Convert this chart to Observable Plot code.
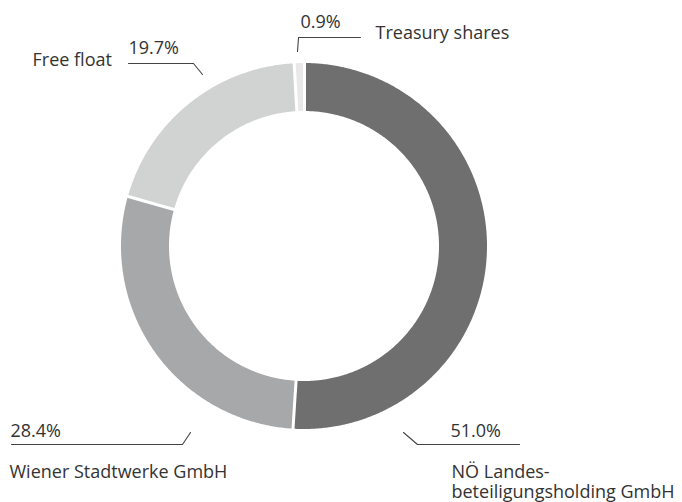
<!DOCTYPE html>
<html>
<head>
<meta charset="utf-8">
<script src="https://cdn.jsdelivr.net/npm/d3@7"></script>
<script src="https://cdn.jsdelivr.net/npm/@observablehq/plot@0.6"></script>
<style>
  html, body { margin: 0; padding: 0; background: #fff; }
  #chart { width: 682px; height: 502px; }
</style>
</head>
<body>
<div id="chart"></div>
<script>
// ---- Data ----
const categories = ["NÖ Landesbeteiligungsholding GmbH", "Wiener Stadtwerke GmbH", "Free float", "Treasury shares"];
const shares = [51.0, 28.4, 19.7, 0.9];
const categoryLabels = ["NÖ Landes-\nbeteiligungsholding GmbH", "Wiener Stadtwerke GmbH", "Free float", "Treasury shares"];
const valueLabels = ["51.0%", "28.4%", "19.7%", "0.9%"];
const sliceColors = ["#6f6f6f", "#a7a8a9", "#d1d2d2", "#e9e9e9"];

// ---- Layout (pixels) ----
const W = 682, H = 502;
const cx = 304, cy = 246, R = 183, r = 135;

const layout = [
  {vx: 450, vy: 436, nx: 451, ny: 497, leader: [[403, 432], [417, 444], [519, 444]]},
  {vx: 10,  vy: 436, nx: 9,   ny: 477, leader: [[11, 444], [182, 444], [190, 432]]},
  {vx: 128, vy: 53,  nx: 32,  ny: 65,  leader: [[128, 63], [193, 63], [202, 74]]},
  {vx: 300, vy: 27,  nx: 375, ny: 38,  leader: [[297, 51], [298, 37], [360, 37]]}
];

// ---- Geometry from data ----
const table = categories.map((c, i) => ({name: c, value: shares[i], index: i}));
const arcs = d3.pie().sort(null).value(d => d.value).startAngle(0).endAngle(2 * Math.PI)(table);

const pt = (a, rad) => [cx + rad * Math.sin(a), cy - rad * Math.cos(a)];
const ringPts = [];
for (const a of arcs) {
  const n = Math.max(4, Math.ceil((a.endAngle - a.startAngle) / (Math.PI / 360)));
  for (let k = 0; k <= n; k++) {
    const t = a.startAngle + (a.endAngle - a.startAngle) * k / n;
    const [ox, oy] = pt(t, R);
    const [ix, iy] = pt(t, r);
    ringPts.push({name: a.data.name, ox, oy, ix, iy});
  }
}
const seps = arcs.map(a => {
  const [x1, y1] = pt(a.startAngle, r - 3);
  const [x2, y2] = pt(a.startAngle, R + 3);
  return {x1, y1, x2, y2};
});

const leaderPts = layout.flatMap((l, i) => l.leader.map(([x, y]) => ({i, x, y})));
const valueText = layout.map((l, i) => ({x: l.vx, y: l.vy, text: valueLabels[i]}));
const nameText = layout.map((l, i) => ({x: l.nx, y: l.ny, text: categoryLabels[i]}));

const font = "'Open Sans', 'Noto Sans', sans-serif";

const chart = Plot.plot({
  width: W,
  height: H,
  margin: 0,
  style: {background: "#fff", fontFamily: font},
  x: {domain: [0, W], range: [0, W], axis: null},
  y: {domain: [0, H], range: [0, H], axis: null},
  color: {domain: categories, range: sliceColors},
  marks: [
    Plot.area(ringPts, {x1: "ox", y1: "oy", x2: "ix", y2: "iy", z: "name", fill: "name", curve: "linear"}),
    Plot.link(seps, {x1: "x1", y1: "y1", x2: "x2", y2: "y2", stroke: "#fff", strokeWidth: 3}),
    Plot.line(leaderPts, {x: "x", y: "y", z: "i", stroke: "#444", strokeWidth: 1.1}),
    Plot.text(valueText, {x: "x", y: "y", text: "text", textAnchor: "start", lineAnchor: "bottom", fontSize: 18, fill: "#333"}),
    Plot.text(nameText, {x: "x", y: "y", text: "text", textAnchor: "start", lineAnchor: "bottom", lineHeight: 1.111, fontSize: 18, fill: "#333"})
  ]
});
document.getElementById("chart").appendChild(chart);
</script>
</body>
</html>
